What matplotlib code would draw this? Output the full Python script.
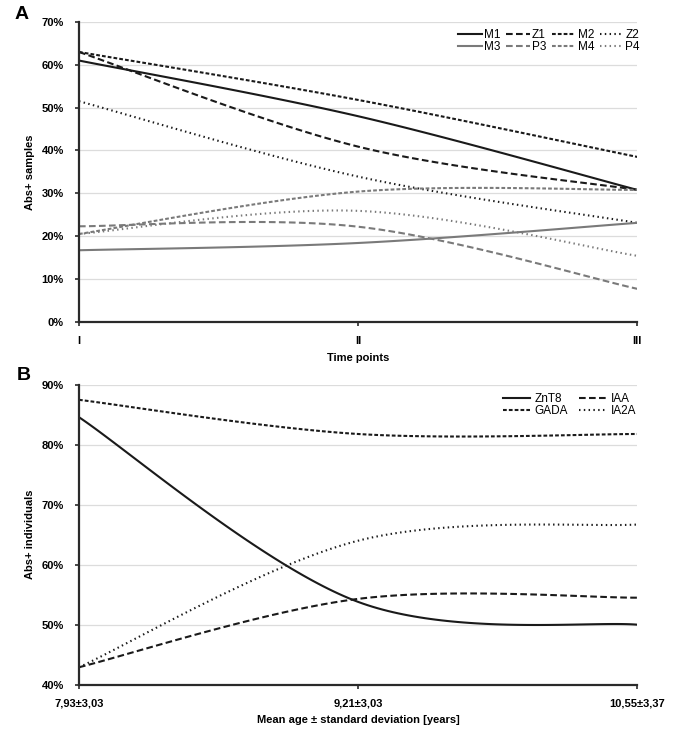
import numpy as np
import matplotlib.pyplot as plt
from matplotlib.ticker import PercentFormatter

plt.rcParams['font.family'] = ['Liberation Sans', 'DejaVu Sans']
plt.rcParams['font.size'] = 8

# panel A - antibody positive samples at three time points (%)
time_points = ['I', 'II', 'III']
a_names = ['M1', 'Z1', 'M2', 'Z2', 'M3', 'P3', 'M4', 'P4']
M1 = [61.0, 48.0, 30.8]
Z1 = [63.0, 40.9, 30.8]
M2 = [63.0, 51.8, 38.5]
Z2 = [51.5, 33.9, 23.1]
M3 = [16.7, 18.4, 23.1]
P3 = [22.3, 22.2, 7.7]
M4 = [20.5, 30.4, 30.8]
P4 = [20.5, 25.9, 15.4]

# panel B - antibody positive individuals by mean age (%)
age_labels = ['7,93±3,03', '9,21±3,03', '10,55±3,37']
b_names = ['ZnT8', 'IAA', 'GADA', 'IA2A']
ZnT8 = [84.6, 53.8, 50.0]
IAA = [42.9, 54.3, 54.5]
GADA = [87.5, 81.8, 81.8]
IA2A = [42.9, 64.0, 66.7]

BLACK = '#1a1a1a'
GRAY = '#7a7a7a'
solid = '-'
longdash = (0, (3.2, 1.6))
shortdash = (0, (1.8, 1.0))
dots = (0, (0.7, 1.6))


# excel style smoothed line (bezier through the points)
def smooth(ys, n=60):
    pts = np.array([[i, y] for i, y in enumerate(ys)], dtype=float)
    ext = np.vstack([pts[0], pts, pts[-1]])
    out = []
    t = np.linspace(0, 1, n)[:, None]
    for i in range(1, len(ext) - 2):
        p0, p1, p2, p3 = ext[i - 1], ext[i], ext[i + 1], ext[i + 2]
        c1 = p1 + (p2 - p0) / 6
        c2 = p2 - (p3 - p1) / 6
        seg = (1 - t) ** 3 * p1 + 3 * (1 - t) ** 2 * t * c1 + 3 * (1 - t) * t ** 2 * c2 + t ** 3 * p2
        out.append(seg if i == 1 else seg[1:])
    out = np.vstack(out)
    return out[:, 0], out[:, 1]


def style_axes(ax, ylim, ystep, xlabels, xlabel, ylabel):
    ax.set_xlim(0, 2)
    ax.set_ylim(*ylim)
    ax.set_yticks(np.arange(ylim[0], ylim[1] + 0.1, ystep))
    ax.yaxis.set_major_formatter(PercentFormatter(decimals=0))
    ax.set_xticks([0, 1, 2])
    ax.set_xticklabels(xlabels)
    ax.grid(axis='y', color='#dcdcdc', lw=0.9)
    ax.set_axisbelow(True)
    for s in ['top', 'right']:
        ax.spines[s].set_visible(False)
    for s in ['left', 'bottom']:
        ax.spines[s].set_linewidth(1.6)
        ax.spines[s].set_color('#2a2a2a')
    ax.tick_params(length=3, width=1.2, color='#2a2a2a')
    ax.tick_params(axis='y', pad=8)
    ax.tick_params(axis='x', pad=7)
    for lab in ax.get_xticklabels() + ax.get_yticklabels():
        lab.set_fontweight('bold')
    ax.set_xlabel(xlabel, fontweight='bold', labelpad=5)
    ax.set_ylabel(ylabel, fontweight='bold', labelpad=5)


fig = plt.figure(figsize=(6.75, 7.33), dpi=100)
axA = fig.add_axes([0.117, 0.561, 0.827, 0.409])
axB = fig.add_axes([0.117, 0.066, 0.827, 0.409])

a_series = [M1, Z1, M2, Z2, M3, P3, M4, P4]
a_colors = [BLACK] * 4 + [GRAY] * 4
a_styles = [solid, longdash, shortdash, dots] * 2
handles = {}
for name, ys, c, ls in zip(a_names, a_series, a_colors, a_styles):
    x, y = smooth(ys)
    handles[name], = axA.plot(x, y, color=c, ls=ls, lw=1.5, label=name)

style_axes(axA, (0, 70), 10, time_points, 'Time points', 'Abs+ samples')
order = ['M1', 'M3', 'Z1', 'P3', 'M2', 'M4', 'Z2', 'P4']
axA.legend([handles[k] for k in order], order, ncol=4, loc='upper right',
           bbox_to_anchor=(1.005, 0.975), frameon=False, handlelength=2.0,
           handletextpad=0.2, columnspacing=0.45, labelspacing=0.0,
           borderaxespad=0, borderpad=0, fontsize=8.5)

b_series = [ZnT8, IAA, GADA, IA2A]
b_styles = [solid, longdash, shortdash, dots]
hb = {}
for name, ys, ls in zip(b_names, b_series, b_styles):
    x, y = smooth(ys)
    hb[name], = axB.plot(x, y, color=BLACK, ls=ls, lw=1.5, label=name)

style_axes(axB, (40, 90), 10, age_labels, 'Mean age ± standard deviation [years]', 'Abs+ individuals')
orderB = ['ZnT8', 'GADA', 'IAA', 'IA2A']
axB.legend([hb[k] for k in orderB], orderB, ncol=2, loc='upper right',
           bbox_to_anchor=(0.998, 0.972), frameon=False, handlelength=2.3,
           handletextpad=0.4, columnspacing=0.9, labelspacing=0.0,
           borderaxespad=0, borderpad=0, fontsize=8.5)

fig.text(0.022, 0.98, 'A', fontsize=14, fontweight='bold', va='center')
fig.text(0.025, 0.488, 'B', fontsize=14, fontweight='bold', va='center')

fig.savefig('out.png', dpi=100)
